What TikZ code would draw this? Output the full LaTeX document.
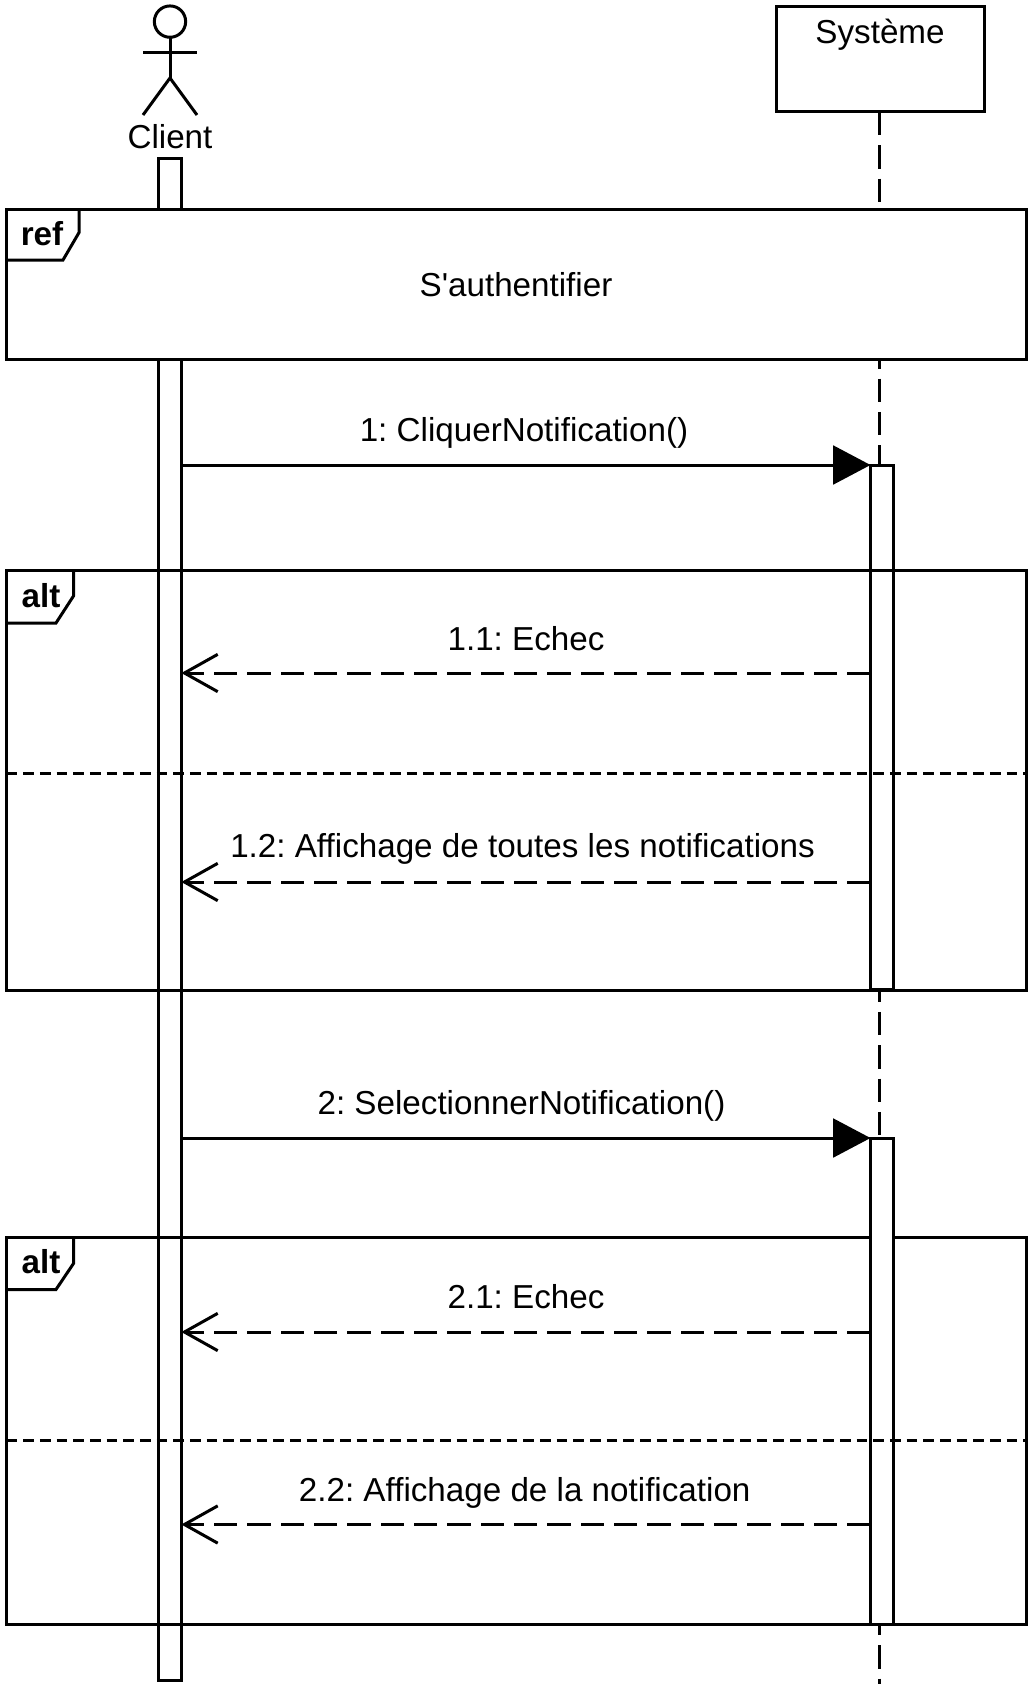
\documentclass[tikz,border=0pt]{standalone}
\usepackage{fontspec}
\newfontfamily\labelfont{Liberation Sans}[Ligatures=NoCommon]
\usetikzlibrary{arrows.meta}
\tikzset{
    line/.style={line width=2.25pt},
    txt/.style={font=\labelfont\frenchspacing\fontsize{24.9pt}{29pt}\selectfont, inner sep=0pt},
    tagtxt/.style={font=\labelfont\fontsize{24.9pt}{29pt}\selectfont\bfseries, inner sep=0pt},
    activ/.style={line, draw, fill=white, inner sep=0pt, outer sep=0pt, anchor=north west, minimum width=17.5pt},
    frm/.style={line, draw, inner sep=0pt, outer sep=0pt, anchor=north west, minimum width=765pt},
    life/.style={line, dash pattern=on 17.5pt off 7.5pt},
    sep/.style={line, dash pattern=on 8pt off 4.5pt},
    call/.style={line, -{Triangle[length=28pt,width=29pt]}},
    back/.style={line, dash pattern=on 17.5pt off 7.5pt, -{Straight Barb[length=25pt,width=28pt]}}
}
\begin{document}
\begin{tikzpicture}[x=0.75pt, y=-0.75pt]
    \useasboundingbox (0,0) rectangle (1032,1686);
    % actor
    \node[line, draw, circle, inner sep=0pt, outer sep=0pt, minimum size=23.5pt] (head) at (170,21.6) {};
    \coordinate (hip) at (170,78);
    \coordinate (armL) at (143,52);
    \coordinate (armR) at (197,52);
    \coordinate (legL) at (143,115);
    \coordinate (legR) at (197,115);
    \draw[line] (head.south) -- (hip);
    \draw[line] (armL) -- (armR);
    \draw[line] (legL) -- (hip) -- (legR);
    \node[txt] (client) at (170,137) {Client};
    \node[line, draw, inner sep=0pt, outer sep=0pt, anchor=north west, minimum width=156pt, minimum height=79pt] (sysbox) at (776,6.5) {};
    \node[txt] (system) at (880,35) {Système};
    % lifelines
    \node[activ, minimum height=1142pt] (cliact) at (158,158) {};
    \coordinate (sysend) at (879,1684);
    \draw[life] (sysbox.south -| sysend) -- (sysend);
    \node[activ, minimum height=393.5pt] (sysactA) at (870.5,465) {};
    % ref
    \node[frm, fill=white, minimum height=113pt] (reffrm) at (6.5,209) {};
    \draw[line] (6.5,260) -- (63,260) -- (79,232.6) -- (79,209);
    \node[tagtxt] (reftag) at (42,233.5) {ref};
    \node[txt] (refname) at (516,285) {S'authentifier};
    % first call
    \coordinate (m1) at (0,465);
    \draw[call] (cliact.east |- m1) -- (sysactA.west |- m1);
    \node[txt] (m1lab) at (524,432.5) {1: CliquerNotification()};
    % first alt
    \node[frm, minimum height=315pt] (altA) at (6.5,570.5) {};
    \draw[line] (6.5,623) -- (56,623) -- (73.5,596) -- (73.5,570.5);
    \node[tagtxt] (altAtag) at (41,596) {alt};
    \coordinate (m11) at (0,673);
    \coordinate (m12) at (0,882);
    \coordinate (sepA) at (0,773.5);
    \draw[sep] (altA.west |- sepA) -- (altA.east |- sepA);
    \draw[back] (sysactA.west |- m11) -- (cliact.east |- m11);
    \draw[back] (sysactA.west |- m12) -- (cliact.east |- m12);
    \node[txt] (m11lab) at (526,638.5) {1.1: Echec};
    \node[txt] (m12lab) at (522.5,849) {1.2: Affichage de toutes les notifications};
    % second call
    \coordinate (m2) at (0,1138);
    \node[frm, minimum height=290pt] (altB) at (6.5,1237.5) {};
    \draw[line] (6.5,1289.5) -- (56,1289.5) -- (73.5,1263.5) -- (73.5,1237.5);
    \node[tagtxt] (altBtag) at (41,1262) {alt};
    \node[activ, minimum height=364.5pt] (sysactB) at (870.5,1138) {};
    \draw[call] (cliact.east |- m2) -- (sysactB.west |- m2);
    \node[txt] (m2lab) at (521.5,1105.5) {2: SelectionnerNotification()};
    % second alt
    \coordinate (m21) at (0,1332);
    \coordinate (m22) at (0,1524.5);
    \coordinate (sepB) at (0,1440);
    \draw[sep] (altB.west |- sepB) -- (altB.east |- sepB);
    \draw[back] (sysactB.west |- m21) -- (cliact.east |- m21);
    \draw[back] (sysactB.west |- m22) -- (cliact.east |- m22);
    \node[txt] (m21lab) at (526,1296.5) {2.1: Echec};
    \node[txt] (m22lab) at (524.7,1493) {2.2: Affichage de la notification};
\end{tikzpicture}
\end{document}
